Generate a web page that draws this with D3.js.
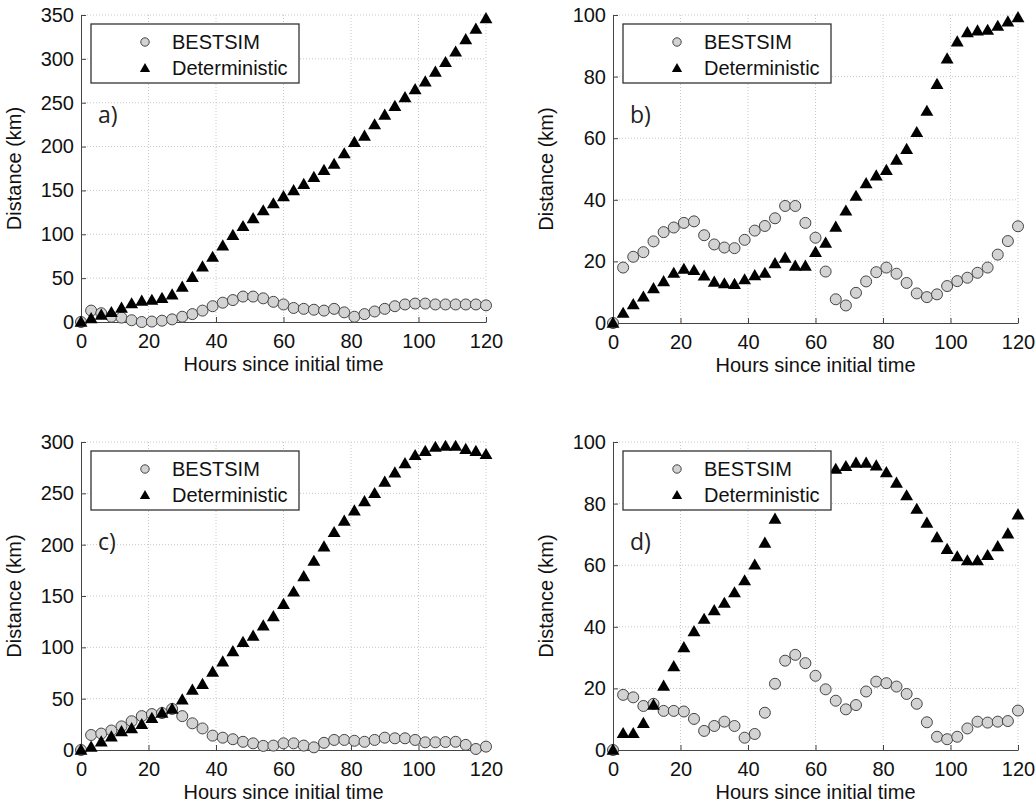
<!doctype html>
<html>
  <head>
    <script src="https://cdn.jsdelivr.net/npm/d3@7/dist/d3.min.js"></script>
    <style>
    body { margin: 0; background: #fff; }
    svg { font-family: "Liberation Sans", Arial, sans-serif; }
    .grid line { stroke: #c8c8c8; stroke-dasharray: 1,2; }
    .axis path, .axis line { stroke: #444; }
    .axis text { font-size: 20px; fill: #111; }
    .best { fill: #d3d3d3; stroke: #444; stroke-width: 1; }
    .det { fill: #000; }
    .label { font-size: 20px; fill: #111; }
    .tag { font-family: "Open Sans", sans-serif; font-size: 23px; fill: #222; }
    </style>
  </head>
  <body>
    <svg width="1036" height="805"></svg>
    <script>
      var hours = [0,3,6,9,12,15,18,21,24,27,30,33,36,39,42,45,48,51,54,57,60,
                   63,66,69,72,75,78,81,84,87,90,93,96,99,102,105,108,111,114,117,120];

      var bestsimA = [0,13,10,6,5,2,0,0.5,1.5,3,6,9,13,18,22,25,29,29,27,23,20,
                      16,15,14,13,15,11,6,9,12,15,18,20,21,21,20,20,20,20,20,19];
      var deterministicA = [0,4,8,11,16,21,24,25,27,31,40,51,63,74,87,99,109,118,127,135,143,
                            150,157,165,173,180,192,205,212,225,236,246,256,265,274,285,296,308,322,334,346];

      var bestsimB = [0,18,21.5,23,26.5,29.5,31,32.5,33,28.5,25.5,24.5,24.3,27,30,31.5,34,38,38,32.5,27.7,
                      16.7,7.7,5.7,9.8,13.5,16.5,18,16,13,9.6,8.4,9.3,12,13.6,14.7,16.3,18,22.2,26.6,31.4];
      var deterministicB = [0,3.2,6,8.5,11.2,13.5,16.2,17.5,17.1,15.3,13.3,12.8,12.6,14.1,15.4,16.2,19.3,21.1,18.5,18.5,23,
                            26,31.2,36.4,41.2,45.3,47.8,49.6,52.9,56.4,61.9,68.8,77.5,85.8,91.3,94.3,94.9,95.1,96.4,97.8,99.2];

      var bestsimC = [0,14.6,16,19,23,28,33,35,36,40,33,26,21,14,12,10.5,8,6.5,4,4.3,6.5,
                      6.5,4.3,2.6,7,9.8,9.8,9,8,9.8,12,11.4,11.4,9.8,7.5,7.5,7.8,8,5,1,3.3];
      var deterministicC = [0,3,8,13,18,21,25,31,36,40,49,58.5,64,76,86,96,105,111,121,130,142,
                            154,169,184,198,212,223,233,242,250,261,270,279,287,291,295,296,296,293,291,288];

      var bestsimD = [0,17.9,17.1,14.3,15,12.7,12.7,12.5,10.1,6.2,7.8,9.2,7.8,4,5.2,12.1,21.5,29,30.9,28.2,24.1,
                      19.7,16,13.2,14.6,19,22.2,21.7,20.6,18.2,15,9,4.3,3.5,4.3,7,9.2,8.9,9.2,9.4,12.8];
      var deterministicD = [0,5.4,5.4,8.7,14.6,20.8,27.1,33.3,38.5,42.5,45.3,47.7,51.1,55,60.1,67.2,75,81,86,89,91,
                            91.5,91.2,92.1,93.2,93.2,92.3,90.1,86.7,82.6,78.2,73.7,69,65.2,62.8,61.5,61.5,63.2,66.1,70.2,76.4];

      var xTicks = [0,20,40,60,80,100,120];
      var yTicksA = [0,50,100,150,200,250,300,350];
      var yTicksB = [0,20,40,60,80,100];
      var yTicksC = [0,50,100,150,200,250,300];
      var yTicksD = [0,20,40,60,80,100];
      var seriesNames = ["BESTSIM", "Deterministic"];

      var panels = [
        { tag: "a)", best: bestsimA, det: deterministicA, yTicks: yTicksA, left: 81,  top: 15,  h: 307 },
        { tag: "b)", best: bestsimB, det: deterministicB, yTicks: yTicksB, left: 613, top: 15,  h: 308 },
        { tag: "c)", best: bestsimC, det: deterministicC, yTicks: yTicksC, left: 81,  top: 442, h: 308 },
        { tag: "d)", best: bestsimD, det: deterministicD, yTicks: yTicksD, left: 613, top: 442, h: 308 }
      ];
      var w = 405;

      var svg = d3.select("svg");
      var tri = d3.symbol().type(d3.symbolTriangle).size(72);
      var triSmall = d3.symbol().type(d3.symbolTriangle).size(46);

      panels.forEach(p => {
        var x = d3.scaleLinear().domain([0, 120]).range([0, w]);
        var y = d3.scaleLinear().domain([0, d3.max(p.yTicks)]).range([p.h, 0]);
        var g = svg.append("g").attr("transform", `translate(${p.left},${p.top})`);

        var grid = g.append("g").attr("class", "grid");
        grid.selectAll("line.v").data(xTicks.filter(t => t > 0)).enter()
          .append("line").attr("class", "v")
            .attr("x1", d => x(d)).attr("x2", d => x(d))
            .attr("y1", 0).attr("y2", p.h);
        grid.selectAll("line.h").data(p.yTicks.filter(t => t > 0)).enter()
          .append("line").attr("class", "h")
            .attr("x1", 0).attr("x2", w)
            .attr("y1", d => y(d)).attr("y2", d => y(d));

        g.append("g").attr("class", "axis")
          .attr("transform", `translate(0,${p.h})`)
          .call(d3.axisBottom(x).tickValues(xTicks).tickSize(-5).tickPadding(12).tickSizeOuter(0))
          .call(a => a.selectAll("text").attr("dy", "0.71em"));
        g.append("g").attr("class", "axis")
          .call(d3.axisLeft(y).tickValues(p.yTicks).tickSize(-5).tickPadding(7).tickSizeOuter(0));
        g.selectAll(".axis").attr("font-size", null).attr("font-family", null);

        g.selectAll("circle.best").data(p.best).enter()
          .append("circle").attr("class", "best")
            .attr("cx", (d, i) => x(hours[i]))
            .attr("cy", d => y(d))
            .attr("r", 5.5);
        g.selectAll("path.det").data(p.det).enter()
          .append("path").attr("class", "det")
            .attr("d", tri)
            .attr("transform", (d, i) => `translate(${x(hours[i])},${y(d) + 1})`);

        g.append("text").attr("class", "tag")
          .attr("x", 17).attr("y", 108).text(p.tag);

        var leg = g.append("g").attr("transform", "translate(10,9)");
        leg.append("rect").attr("width", 208).attr("height", 59)
          .attr("fill", "#fff").attr("stroke", "#333").attr("stroke-width", 1.3);
        leg.append("circle").attr("class", "best").attr("cx", 54).attr("cy", 18).attr("r", 4.2);
        leg.append("path").attr("class", "det").attr("d", triSmall)
          .attr("transform", "translate(54,45)");
        leg.selectAll("text").data(seriesNames).enter()
          .append("text").attr("class", "label")
            .attr("x", 81).attr("y", (d, i) => 18 + i * 26)
            .attr("dy", "0.36em").text(d => d);

        g.append("text").attr("class", "label")
          .attr("text-anchor", "middle")
          .attr("x", w / 2).attr("y", p.h + 49)
          .text("Hours since initial time");
        g.append("text").attr("class", "label")
          .attr("text-anchor", "middle")
          .attr("transform", `translate(-60,${p.h / 2}) rotate(-90)`)
          .text("Distance (km)");
      });
    </script>
  </body>
</html>
